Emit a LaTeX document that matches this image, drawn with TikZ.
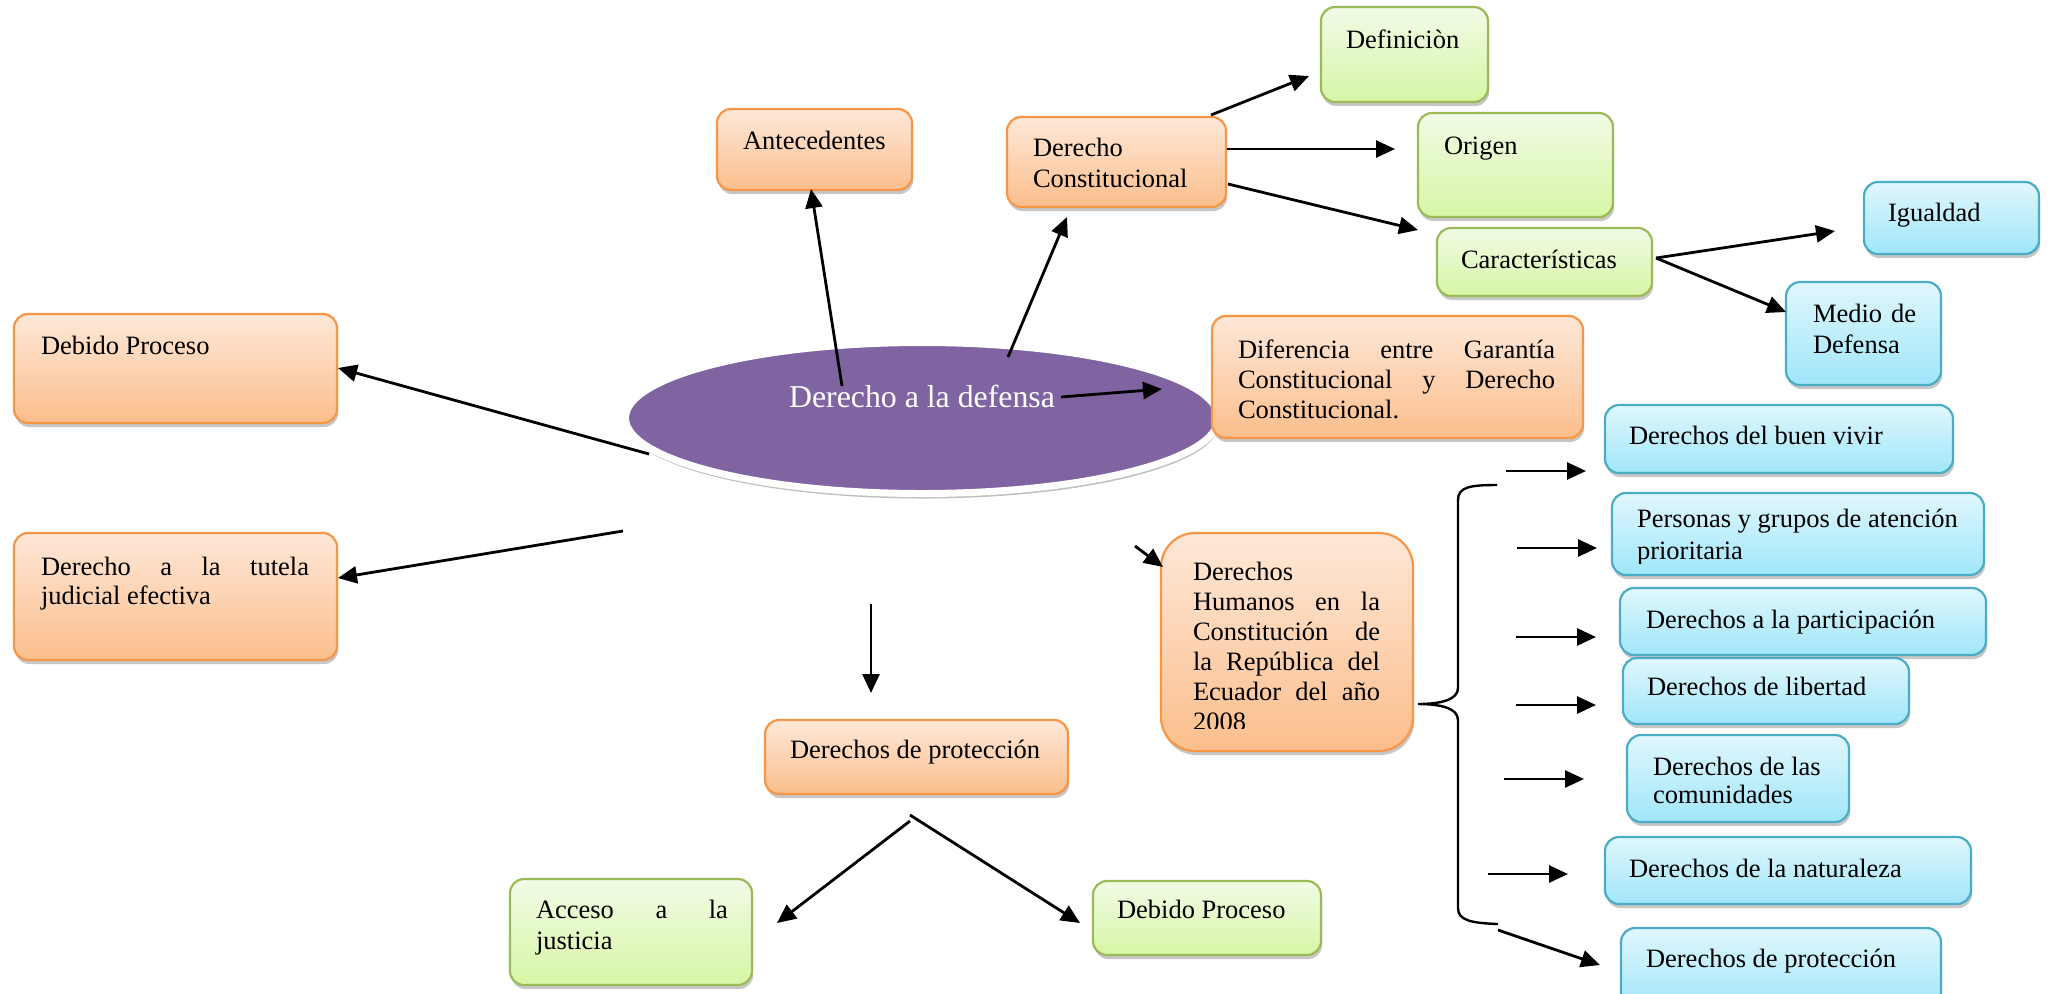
\documentclass[tikz,border=0pt]{standalone}
\usepackage{fontspec}
\setmainfont{Liberation Serif}
\usetikzlibrary{arrows.meta,shapes.geometric,shadows}
\definecolor{obrd}{RGB}{247,150,70}
\definecolor{otop}{RGB}{254,232,216}
\definecolor{obot}{RGB}{251,190,140}
\definecolor{gbrd}{RGB}{155,187,89}
\definecolor{gtop}{RGB}{241,251,230}
\definecolor{gbot}{RGB}{215,246,165}
\definecolor{bbrd}{RGB}{75,172,198}
\definecolor{btop}{RGB}{224,247,253}
\definecolor{bbot}{RGB}{160,230,250}
\definecolor{purp}{RGB}{128,100,162}
\newcommand\mkbox[6]{\node[#2, anchor=north west, minimum width=\fpeval{(#5-#3)/2}pt, minimum height=\fpeval{(#6-#4)/2}pt] (#1) at (#3,#4) {};}
\newcommand\jl[2]{\makebox[#1][l]{#2}}
\tikzset{
 boxbase/.style={rounded corners=7pt, line width=1.1pt, inner sep=0pt, outer sep=0pt,
   drop shadow={shadow xshift=0.6pt, shadow yshift=-2pt, opacity=0.22, fill=black}},
 obox/.style={boxbase, draw=obrd, top color=otop, bottom color=obot},
 dhbox/.style={obox, rounded corners=17pt},
 gbox/.style={boxbase, draw=gbrd, top color=gtop, bottom color=gbot},
 bluebox/.style={boxbase, draw=bbrd, top color=btop, bottom color=bbot},
 txt/.style={inner sep=0pt, outer sep=0pt, font=\fontsize{13.25pt}{15pt}\selectfont, anchor=base west, align=flush left},
 arr/.style={line width=1.4pt, -{Triangle[length=9.5pt,width=8.5pt]}},
}
\begin{document}
\begin{tikzpicture}[x=0.5pt,y=-0.5pt]
\fill[white] (0,0) rectangle (2051,993);
\useasboundingbox (0,0) rectangle (2051,993);

% central ellipse
\node[ellipse, fill=purp, draw=white, line width=3.5pt, minimum width=296.5pt, minimum height=75.5pt,
  drop shadow={shadow xshift=0.5pt, shadow yshift=-2.5pt, opacity=0.25, fill=black}] (ell) at (922,418) {};
\node[inner sep=0pt, text=white, font=\fontsize{15.9pt}{18pt}\selectfont, anchor=base] (ell-t) at (922,407) {Derecho a la defensa};

% orange boxes
\mkbox{ant}{obox}{717}{109}{912}{190}
\node[txt] (ant-t) at (743,149) {Antecedentes};
\mkbox{dc}{obox}{1007}{117}{1226}{207}
\node[txt, text width=100pt, font=\fontsize{13.25pt}{15.5pt}\selectfont] (dc-t) at (1033,156) {Derecho\\Constitucional};
\mkbox{dif}{obox}{1212}{316}{1583}{438}
\node[txt, text width=158.5pt] (dif-t) at (1238,358) {\jl{158.5pt}{Diferencia\hfill entre\hfill Garantía}\\\jl{158.5pt}{Constitucional\hfill y\hfill Derecho}\\Constitucional.};
\mkbox{dpa}{obox}{14}{314}{337}{423}
\node[txt] (dpa-t) at (41,354) {Debido Proceso};
\mkbox{tut}{obox}{14}{533}{337}{660}
\node[txt, text width=134pt, font=\fontsize{13.25pt}{14.5pt}\selectfont] (tut-t) at (41,575) {\jl{134pt}{Derecho\hfill a\hfill la\hfill tutela}\\judicial efectiva};
\mkbox{dpr}{obox}{765}{720}{1068}{794}
\node[txt] (dpr-t) at (790,758) {Derechos de protección};
\mkbox{dh}{dhbox}{1161}{533}{1413}{751}
\begin{scope}
\clip (1161,533) rectangle (1413,728);
\node[txt, text width=93.5pt] (dh-t) at (1193,580) {Derechos\\\jl{93.5pt}{Humanos\hfill en\hfill la}\\\jl{93.5pt}{Constitución\hfill de}\\\jl{93.5pt}{la\hfill República\hfill del}\\\jl{93.5pt}{Ecuador\hfill del\hfill año}\\2008};
\end{scope}

% green boxes
\mkbox{def}{gbox}{1321}{7}{1488}{102}
\node[txt] (def-t) at (1346,48) {Definiciòn};
\mkbox{ori}{gbox}{1418}{113}{1613}{217}
\node[txt] (ori-t) at (1444,154) {Origen};
\mkbox{car}{gbox}{1437}{228}{1652}{296}
\node[txt] (car-t) at (1461,268) {Características};
\mkbox{acc}{gbox}{510}{879}{752}{985}
\node[txt, text width=96pt, font=\fontsize{13.25pt}{15.5pt}\selectfont] (acc-t) at (536,918) {\jl{96pt}{Acceso\hfill a\hfill la}\\justicia};
\mkbox{dpb}{gbox}{1093}{881}{1321}{955}
\node[txt] (dpb-t) at (1117,918) {Debido Proceso};

% blue boxes
\mkbox{igu}{bluebox}{1864}{182}{2039}{254}
\node[txt] (igu-t) at (1888,221) {Igualdad};
\mkbox{med}{bluebox}{1786}{282}{1941}{385}
\node[txt, text width=51.5pt, font=\fontsize{13.25pt}{15.5pt}\selectfont] (med-t) at (1813,322) {\jl{51.5pt}{Medio\hfill de}\\Defensa};
\mkbox{bv}{bluebox}{1605}{405}{1953}{473}
\node[txt] (bv-t) at (1629,444) {Derechos del buen vivir};
\mkbox{per}{bluebox}{1612}{493}{1984}{575}
\begin{scope}
\clip (1612,493) rectangle (1984,563);
\node[txt, text width=180pt, font=\fontsize{13.25pt}{16pt}\selectfont] (per-t) at (1637,527) {Personas y grupos de atención\\prioritaria};
\end{scope}
\mkbox{par}{bluebox}{1620}{588}{1986}{655}
\node[txt] (par-t) at (1646,628) {Derechos a la participación};
\mkbox{lib}{bluebox}{1623}{658}{1909}{724}
\node[txt] (lib-t) at (1647,695) {Derechos de libertad};
\mkbox{com}{bluebox}{1627}{735}{1849}{822}
\node[txt, text width=100pt, font=\fontsize{13.25pt}{14pt}\selectfont] (com-t) at (1653,775) {Derechos de las\\comunidades};
\mkbox{nat}{bluebox}{1605}{837}{1971}{904}
\node[txt] (nat-t) at (1629,877) {Derechos de la naturaleza};
\mkbox{prb}{bluebox}{1621}{928}{1941}{1010}
\node[txt] (prb-t) at (1646,967) {Derechos de protección};

% connector end points
\coordinate (s1) at (842,386);  \coordinate (e1) at (811,189);
\coordinate (s2) at (1008,357); \coordinate (e2) at (1067,217);
\coordinate (s3) at (1061,397); \coordinate (e3) at (1162,389);
\coordinate (s4) at (649,454);  \coordinate (e4) at (338,368);
\coordinate (s5) at (623,531);  \coordinate (e5) at (338,578);
\coordinate (s6) at (871,604);  \coordinate (e6) at (871,693);
\coordinate (s7) at (1135,546); \coordinate (e7) at (1163,567);
\coordinate (s8) at (1211,115); \coordinate (e8) at (1309,76);
\coordinate (s9) at (1227,149); \coordinate (e9) at (1395,149);
\coordinate (s10) at (1228,184); \coordinate (e10) at (1418,230);
\coordinate (s11) at (1656,258); \coordinate (e11) at (1835,231);
\coordinate (e12) at (1786,312);
\coordinate (s13) at (910,821); \coordinate (e13) at (777,923);
\coordinate (s14) at (910,815); \coordinate (e14) at (1080,923);
\coordinate (s15) at (1506,471); \coordinate (e15) at (1586,471);
\coordinate (s16) at (1517,548); \coordinate (e16) at (1597,548);
\coordinate (s17) at (1516,637); \coordinate (e17) at (1596,637);
\coordinate (s18) at (1516,705); \coordinate (e18) at (1596,705);
\coordinate (s19) at (1504,779); \coordinate (e19) at (1584,779);
\coordinate (s20) at (1488,874); \coordinate (e20) at (1568,874);
\coordinate (s21) at (1498,930); \coordinate (e21) at (1600,965);

\foreach \i in {1,...,11,13,14,15,16,17,18,19,20,21}{\draw[arr] (s\i) -- (e\i);}
\draw[arr] (s11) -- (e12);

% brace
\draw[line width=1.2pt] (1497,485) .. controls (1470,485) and (1458,487) .. (1458,500)
  -- (1458,688) .. controls (1458,700) and (1440,704) .. (1418,704)
  .. controls (1440,704) and (1458,708) .. (1458,720)
  -- (1458,908) .. controls (1458,920) and (1470,923) .. (1498,924);
\end{tikzpicture}
\end{document}
